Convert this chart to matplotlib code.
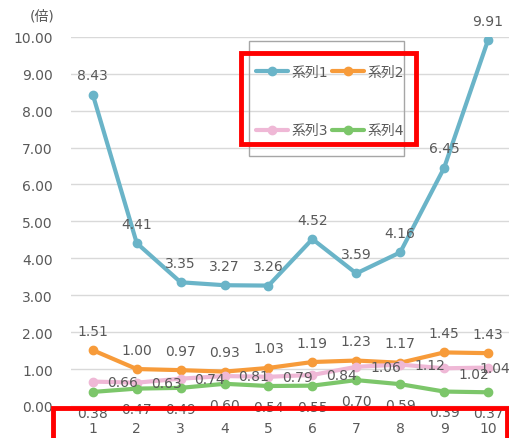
import matplotlib.pyplot as plt
from matplotlib.patches import Rectangle

plt.rcParams['font.family'] = ['DejaVu Sans', 'Noto Sans CJK JP']

x = [1, 2, 3, 4, 5, 6, 7, 8, 9, 10]
s1 = [8.43, 4.41, 3.35, 3.27, 3.26, 4.52, 3.59, 4.16, 6.45, 9.91]
s2 = [1.51, 1.00, 0.97, 0.93, 1.03, 1.19, 1.23, 1.17, 1.45, 1.43]
s3 = [0.66, 0.63, 0.74, 0.81, 0.79, 0.84, 1.06, 1.12, 1.02, 1.04]
s4 = [0.38, 0.47, 0.49, 0.60, 0.54, 0.55, 0.70, 0.59, 0.39, 0.37]
names = ['系列1', '系列2', '系列3', '系列4']
colors = ['#6AB4C8', '#F79B3A', '#EFB8D6', '#7CC66A']
txt = '#595959'

fig = plt.figure(figsize=(5.1, 4.39), dpi=100)
ax = fig.add_axes([0.139, 0.073, 0.861, 0.841])

series = [s1, s2, s3, s4]
# label placement: above, above, right, below
offs = [(0, 9, 'center', 'bottom'), (0, 9, 'center', 'bottom'),
        (10, 0, 'left', 'center'), (0, -10, 'center', 'top')]
handles = []
for k, (ys, c, n, (dx, dy, ha, va)) in enumerate(zip(series, colors, names, offs)):
    h, = ax.plot(x, ys, color=c, lw=3, marker='o', ms=6, label=n,
                 solid_capstyle='round')
    handles.append(h)
    for i, (xi, yi) in enumerate(zip(x, ys)):
        ddx, ddy = dx, dy
        if k == 2 and i == 8:
            ddy = -4
        if k == 2 and i == 9:
            ddx = -6
        ax.annotate('%.2f' % yi, (xi, yi), xytext=(ddx, ddy),
                    textcoords='offset points', ha=ha, va=va,
                    fontsize=10, color=txt, annotation_clip=False)

ax.set_xlim(0.5, 10.5)
ax.set_ylim(0, 10)
ax.set_yticks(range(0, 11))
ax.set_yticklabels(['%.2f' % v for v in range(0, 11)], fontsize=10, color=txt)
ax.set_xticks(x)
ax.set_xticklabels([str(v) for v in x], fontsize=10, color=txt)
ax.tick_params(length=0)
ax.tick_params(axis='y', pad=13)
ax.tick_params(axis='x', pad=11)
ax.grid(axis='y', color='#D9D9D9', lw=1)
ax.set_axisbelow(True)
for sp in ax.spines.values():
    sp.set_visible(False)

fig.text(42 / 510, 1 - 17 / 439, '(倍)', fontsize=10, color=txt,
         ha='center', va='center')

# legend frame drawn separately
fig.patches.append(Rectangle((249 / 510, 1 - 157 / 439), 155 / 510, 115 / 439,
                             transform=fig.transFigure, fill=False,
                             edgecolor='#A6A6A6', lw=1, zorder=5))
leg = fig.legend(handles=[handles[0], handles[2], handles[1], handles[3]],
                 ncol=2, loc='upper left', frameon=False,
                 bbox_to_anchor=(249 / 510, 1 - 59 / 439), fontsize=10,
                 labelspacing=3.2, handlelength=2.3, handletextpad=0.25,
                 columnspacing=0.3, borderpad=0, labelcolor=txt)

# red highlight boxes
fig.patches.append(Rectangle((241 / 510, 1 - 145 / 439), 175 / 510, 91 / 439,
                             transform=fig.transFigure, fill=False,
                             edgecolor='red', lw=3.5, zorder=10))
fig.patches.append(Rectangle((53 / 510, -0.05), 454 / 510, 0.05 + 30 / 439,
                             transform=fig.transFigure, fill=False,
                             edgecolor='red', lw=3.5, zorder=10))

fig.savefig('out.png', dpi=100)
